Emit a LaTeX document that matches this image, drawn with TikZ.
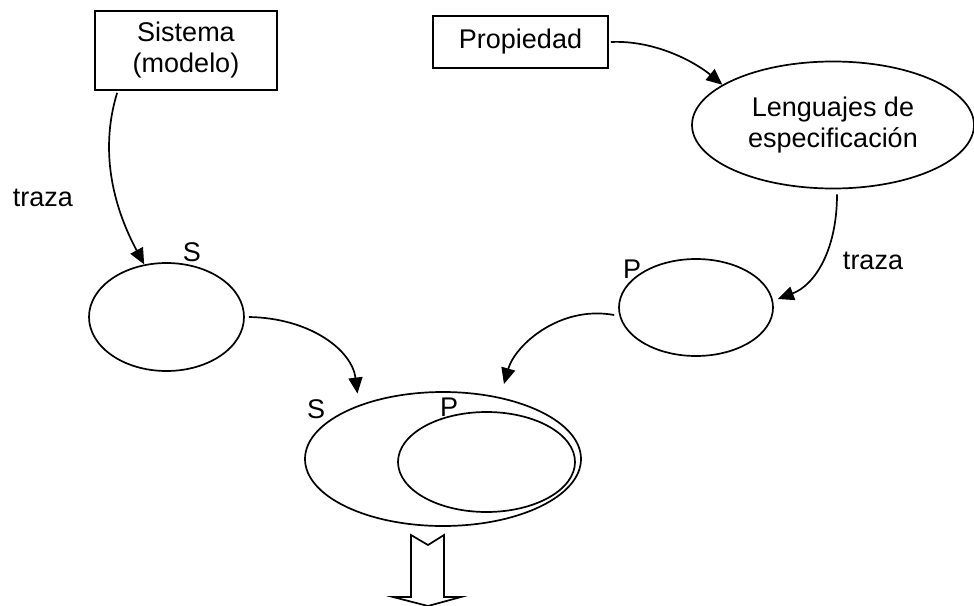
\documentclass[tikz,border=0pt]{standalone}
\usepackage{fontspec}
\setmainfont{Liberation Sans}
\usetikzlibrary{shapes.geometric,arrows.meta}

\begin{document}
\begin{tikzpicture}[x=1pt, y=-1pt, line width=1.7pt,
  every node/.style={font=\fontsize{27}{31}\selectfont},
  box/.style={draw, rectangle, inner sep=0pt, align=center},
  oval/.style={draw, ellipse, inner sep=0pt, align=center},
  lbl/.style={inner sep=0pt},
  conn/.style={-{Triangle[length=16pt,width=14pt]}}]
\useasboundingbox (0,0) rectangle (974,605);
\clip (0,0) rectangle (974,605);

% top row: system and property
\node[box, minimum width=182pt, minimum height=79pt] (sis) at (186,50.5) {Sistema\\(modelo)};
\node[box, minimum width=175pt, minimum height=52pt] (prop) at (520.5,42) {Propiedad};
\node[oval, minimum width=282pt, minimum height=127pt] (leng) at (833,125) {Lenguajes de\\especificación};

% trace sets
\node[oval, minimum width=155pt, minimum height=108pt] (s1) at (166.5,317) {};
\node[oval, minimum width=154pt, minimum height=97pt] (p1) at (696,307.5) {};

% inclusion of P in S
\node[oval, minimum width=276pt, minimum height=134pt] (sbig) at (443,459) {};
\node[oval, minimum width=177pt, minimum height=100pt] (pin) at (486.5,462) {};

% labels
\node[lbl] (tl) at (43,198) {traza};
\node[lbl] (tr) at (873,261) {traza};
\node[lbl] (ls1) at (192,252) {S};
\node[lbl] (lp1) at (632,269) {P};
\node[lbl] (lsb) at (316,409) {S};
\node[lbl] (lpb) at (449,407) {P};

% connectors
\draw[conn] ([xshift=23pt,yshift=-2pt]sis.south west)
  .. controls (98,155) and (116,212) .. (s1.113);
\draw[conn] ([xshift=4pt]s1.east)
  .. controls (310,318) and (352,350) .. ([yshift=12pt]sbig.148);
\draw[conn] ([xshift=2pt]prop.east)
  .. controls (655,40) and (695,62) .. (leng.160);
\draw[conn] ([xshift=4pt,yshift=-5pt]leng.south)
  .. controls (837,250) and (815,285) .. ([xshift=4pt,yshift=8.5pt]p1.east);
\draw[conn] ([xshift=-4pt,yshift=-7.5pt]p1.west)
  .. controls (560,305) and (515,345) .. ([yshift=14pt]sbig.45);

% block arrow below
\draw[line join=miter] (411,535) -- (428,545) -- (444,535) -- (444,597)
  -- (461,597) -- (428,606) -- (393,597) -- (411,597) -- cycle;
\end{tikzpicture}
\end{document}
